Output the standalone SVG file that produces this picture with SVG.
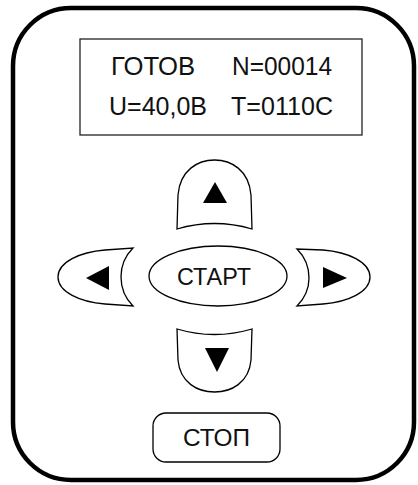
<svg xmlns="http://www.w3.org/2000/svg" width="418" height="485" viewBox="0 0 418 485">
<style>
.btn{fill:#fff;stroke:#000;stroke-width:1.3}
.tri{fill:#000;stroke:none}
.t{font-family:"Liberation Sans",Arial,sans-serif;fill:#111}
</style>
<rect width="418" height="485" fill="#fff"/>
<g id="frame">
<rect x="13" y="8" width="401" height="472" rx="58" ry="58" fill="#fff" stroke="#000" stroke-width="4.5"/>
</g>
<g id="display">
<rect x="80" y="39" width="282" height="96" fill="#fff" stroke="#222" stroke-width="1.3"/>
<text class="t" x="111" y="75" font-size="25" textLength="84" lengthAdjust="spacingAndGlyphs">ГОТОВ</text>
<text class="t" x="232" y="75" font-size="25" textLength="100" lengthAdjust="spacingAndGlyphs">N=00014</text>
<text class="t" x="109" y="115" font-size="25" textLength="98" lengthAdjust="spacingAndGlyphs">U=40,0В</text>
<text class="t" x="231" y="115" font-size="25" textLength="102" lengthAdjust="spacingAndGlyphs">T=0110С</text>
</g>
<g id="btn-up">
<path class="btn" d="M177,229 L178,195 C180,170 198,160 214.5,160 C231,160 249,170 251,195 L252,229 Q214.5,218 177,229 Z"/>
<polygon class="tri" points="215,182 203,203 227,203"/>
</g>
<g id="btn-left">
<path class="btn" d="M133,248 C125,256 121,266 121,277 C121,289 125,298 133,306 L105,304 C80,302 58,292 58,277 C58,262 80,252 105,250 Z"/>
<polygon class="tri" points="86,278 109,266 109,290"/>
</g>
<g id="btn-start">
<ellipse class="btn" cx="218" cy="276" rx="69" ry="30"/>
<text class="t" x="177" y="285" font-size="23" textLength="74" lengthAdjust="spacingAndGlyphs">СТАРТ</text>
</g>
<g id="btn-right">
<path class="btn" d="M297,249 C305,257 309,267 309,278 C309,290 305,298 297,306 L323,304 C348,302 370,292 370,277 C370,262 348,252 323,250 Z"/>
<polygon class="tri" points="323,267 323,288 347,278"/>
</g>
<g id="btn-down">
<path class="btn" d="M177,329 Q214.5,340 252,329 L251,360 C249,383 231,392 214.5,392 C198,392 180,383 178,360 Z"/>
<polygon class="tri" points="205,348 229,348 217,372"/>
</g>
<g id="btn-stop">
<rect class="btn" x="153" y="413" width="127" height="49" rx="13" ry="13"/>
<text class="t" x="183" y="446" font-size="24" textLength="67" lengthAdjust="spacingAndGlyphs">СТОП</text>
</g>
</svg>
